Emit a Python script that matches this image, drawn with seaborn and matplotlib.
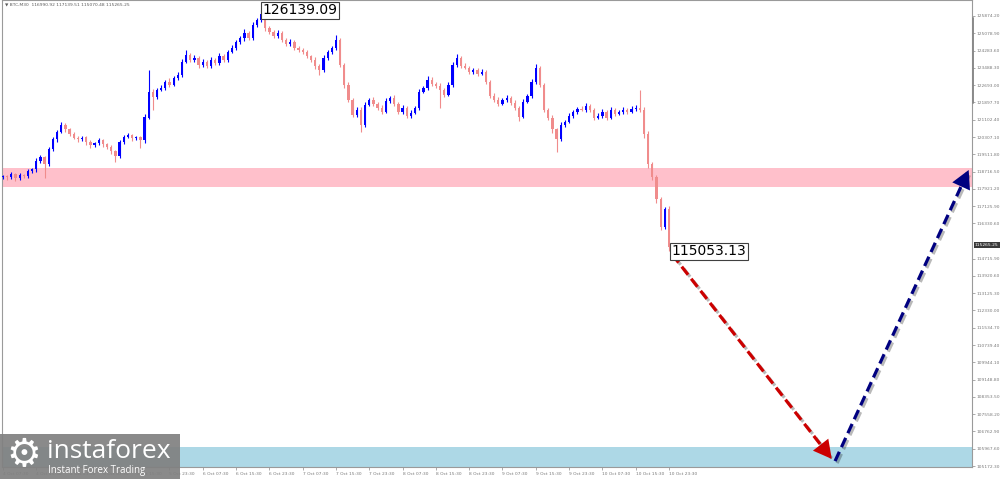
import numpy as np
import pandas as pd
import seaborn as sns
import matplotlib.pyplot as plt
import matplotlib.patheffects as pe
from matplotlib.patches import Rectangle
from matplotlib.lines import Line2D
from matplotlib.transforms import blended_transform_factory

# BTC M30 chart, one value per hour-ish bar
first_open = 118480
closes = [
    118500, 118455, 118590, 118410, 118545, 118500, 118730, 118820, 119185, 119370,
    119050, 119735, 120195, 120560, 120880, 120655, 120425, 120285, 120195, 120285,
    120060, 119920, 120010, 120150, 119965, 119830, 119645, 119415, 120060, 120330,
    120380, 120240, 120285, 120150, 121205, 122395, 122165, 122485, 122575, 122850,
    122715, 123035, 123170, 123765, 124090, 123860, 123950, 123630, 123765, 123585,
    123860, 123720, 124040, 123860, 124225, 124410, 124685, 124865, 125095, 124865,
    125460, 125690, 125965, 125325, 125140, 124960, 125095, 124775, 124590, 124685,
    124410, 124315, 124225, 124040, 123860, 123585, 123400, 123950, 124225, 124410,
    124775, 123630, 122715, 122025, 121340, 121570, 120880, 121800, 122025, 121845,
    121660, 121475, 121980, 122120, 121845, 121475, 121660, 121295, 121430, 121660,
    122395, 122575, 122945, 122760, 122670, 122485, 122255, 122715, 123630, 123950,
    123585, 123495, 123310, 123400, 123220, 123310, 122850, 122210, 122025, 121845,
    122025, 122120, 121890, 121660, 121250, 121935, 122210, 122850, 123495, 122715,
    121570, 121205, 120655, 120195, 120880, 121020, 121295, 121475, 121615, 121570,
    121750, 121570, 121205, 121295, 121475, 121205, 121570, 121385, 121475, 121570,
    121475, 121615, 121660, 121570, 120425, 119050, 118455, 117445, 116165, 116990.92,
    115265.25,
]
wick_up = [
    80, 60, 120, 70, 90, 60, 110, 80, 150, 90,
    70, 130, 110, 90, 140, 60, 80, 100, 70, 90,
    60, 110, 80, 90, 70, 60, 100, 80, 120, 90,
    100, 70, 90, 60, 180, 1000, 120, 90, 110, 80,
    150, 90, 110, 130, 230, 80, 120, 70, 140, 90,
    110, 80, 120, 90, 100, 130, 90, 110, 160, 80,
    120, 100, 174, 90, 110, 80, 130, 70, 90, 120,
    80, 100, 70, 90, 60, 110, 80, 120, 90, 100,
    230, 110, 90, 130, 80, 140, 100, 120, 90, 110,
    80, 100, 140, 90, 120, 70, 110, 90, 100, 80,
    130, 90, 183, 110, 80, 100, 70, 120, 140, 183,
    90, 110, 80, 100, 70, 120, 90, 80, 100, 110,
    90, 120, 80, 100, 70, 110, 90, 130, 183, 80,
    100, 70, 120, 90, 110, 80, 100, 90, 70, 110,
    137, 90, 80, 110, 100, 70, 120, 90, 80, 100,
    90, 110, 120, 810, 100, 150, 120, 90, 110, 90,
    148.59,
]
wick_dn = [
    90, 110, 70, 120, 80, 100, 60, 90, 110, 80,
    628, 90, 70, 100, 80, 120, 90, 70, 110, 80,
    100, 130, 80, 90, 110, 70, 120, 257, 90, 80,
    70, 100, 90, 348, 120, 90, 615, 100, 80, 110,
    90, 80, 120, 100, 70, 110, 90, 130, 80, 100,
    90, 120, 80, 100, 110, 70, 90, 80, 120, 100,
    90, 110, 80, 130, 100, 90, 120, 80, 110, 90,
    100, 80, 120, 90, 110, 140, 230, 90, 80, 100,
    90, 120, 150, 110, 130, 100, 342, 90, 80, 110,
    100, 120, 80, 90, 110, 130, 90, 100, 120, 80,
    90, 80, 100, 110, 90, 843, 120, 80, 100, 90,
    110, 80, 100, 90, 120, 80, 110, 130, 90, 100,
    80, 110, 90, 120, 183, 90, 80, 100, 90, 110,
    130, 120, 150, 577, 90, 110, 80, 100, 90, 80,
    90, 110, 120, 80, 100, 130, 90, 110, 80, 100,
    90, 80, 100, 90, 140, 160, 130, 150, 120, 100,
    212.12,
]

time_labels = [
    "4 Oct 07:30", "4 Oct 15:30", "4 Oct 23:30", "5 Oct 07:30", "5 Oct 15:30",
    "5 Oct 23:30", "6 Oct 07:30", "6 Oct 15:30", "6 Oct 23:30", "7 Oct 07:30",
    "7 Oct 15:30", "7 Oct 23:30", "8 Oct 07:30", "8 Oct 15:30", "8 Oct 23:30",
    "9 Oct 07:30", "9 Oct 15:30", "9 Oct 23:30", "10 Oct 07:30", "10 Oct 15:30",
    "10 Oct 23:30",
]
price_ticks = [
    125874.20, 125078.90, 124283.60, 123488.30, 122693.00, 121897.70, 121102.40,
    120307.10, 119511.80, 118716.50, 117921.20, 117125.90, 116330.60,
    114715.90, 113920.60, 113125.30, 112330.00, 111534.70, 110739.40, 109944.10,
    109148.80, 108353.50, 107558.20, 106762.90, 105967.60, 105172.30,
]

high_label = 126139.09
high_bar = 62
low_label = 115053.13
header = "BTC,M30  116990.92 117139.51 115070.48 115265.25"

resist_zone = (118010, 118880)
target_zone = (105128, 106050)
down_move = [(160.8, 114900), (199.1, 105500)]
up_move = [(199.9, 105400), (232.0, 118790)]

df = pd.DataFrame({"close": closes, "wick_up": wick_up, "wick_dn": wick_dn})
df["open"] = [first_open] + closes[:-1]
df["bar"] = np.arange(len(df))
df["top"] = df[["open", "close"]].max(axis=1)
df["bot"] = df[["open", "close"]].min(axis=1)
df["high"] = df["top"] + df["wick_up"]
df["low"] = df["bot"] - df["wick_dn"]
df.loc[df.index[-1], "low"] = low_label
up = df["close"] >= df["open"]
colors = np.where(up, "#0000ff", "#f08c8c")

sns.set_theme(style="white")
plt.rcParams["font.family"] = ["DejaVu Sans"]

fig = plt.figure(figsize=(10, 4.79), dpi=100)
ax = fig.add_axes([0.0015, 12 / 479, 0.9705, 467 / 479])

ax.axhspan(*resist_zone, color="#ffc0cb", lw=0, zorder=0)
ax.axhspan(*target_zone, color="#add8e6", lw=0, zorder=0)

ax.vlines(df["bar"], df["low"], df["high"], colors=colors, lw=0.8, zorder=2)
ax.bar(df["bar"], np.maximum(df["top"] - df["bot"], 25), bottom=df["bot"],
       width=0.55, color=colors, lw=0, zorder=3)

ax.set_xlim(-0.36, 232.8)
ax.set_ylim(105128, 126610)

# wave forecast arrows
for move, c in [(down_move, "#cc0000"), (up_move, "#000080")]:
    (x0, y0), (x1, y1) = move
    sns.lineplot(x=[x0, x1], y=[y0, y1], color=c, lw=2.3, linestyle=(0, (3.2, 1.6)),
                 ax=ax, zorder=6, sort=False)
    ax.lines[-1].set_path_effects([pe.SimpleLineShadow(offset=(1.5, -1.5), alpha=0.3),
                                   pe.Normal()])
    ax.lines[-1].set_clip_on(False)
    bx = x1 - 0.06 * (x1 - x0)
    by = y1 - 0.06 * (y1 - y0)
    ax.annotate("", xy=(x1, y1), xytext=(bx, by), annotation_clip=False,
                arrowprops=dict(arrowstyle="-|>,head_length=0.65,head_width=0.35",
                                mutation_scale=20, color=c, lw=0,
                                shrinkA=0, shrinkB=0), zorder=7)

# price labels at the extremes
box = dict(boxstyle="square,pad=0.12", fc="white", ec="#404040", lw=0.8)
ax.text(high_bar + 0.36, high_label, f"{high_label:.2f}", ha="left", va="center",
        fontsize=10, color="black", bbox=box, zorder=8)
ax.text(df["bar"].iloc[-1] + 0.7, low_label, f"{low_label:.2f}", ha="left", va="center",
        fontsize=10, color="black", bbox=box, zorder=8)

# axes styling like the terminal
for s in ax.spines.values():
    s.set_color("#9a9a9a")
    s.set_linewidth(0.8)
ax.yaxis.tick_right()
ax.set_yticks(price_ticks, [f"{v:.2f}" for v in price_ticks])
ax.set_xticks(df["bar"].iloc[::8].values, time_labels)
ax.tick_params(axis="both", length=2, width=0.5, color="#8a8a8a", labelcolor="#7a7a7a",
               labelsize=3.2, pad=1.5, direction="out")
ax.tick_params(axis="y", right=True, left=False)
ax.tick_params(axis="x", bottom=True)
for lab in ax.get_xticklabels():
    lab.set_ha("left")
ax.set_xlabel("")
ax.set_ylabel("")

# current price tag on the scale
trans = blended_transform_factory(ax.transAxes, ax.transData)
ax.text(1.003, closes[-1], f"{closes[-1]:.2f}", transform=trans, ha="left", va="bottom",
        fontsize=3.2, color="white", zorder=9, clip_on=False,
        bbox=dict(boxstyle="square,pad=0.25", fc="#3a3a3a", ec="none"))

fig.add_artist(Line2D([0.9725, 0.9725], [1 - 18 / 479, 1 - 103 / 479],
                      color="#8a8a8a", lw=1.4))

ax.text(0.004, 1 - 5 / 467, "\u25bc " + header, transform=ax.transAxes, ha="left",
        va="center", fontsize=3.2, color="#5a5a5a")

# watermark
fig.add_artist(Rectangle((0, 0), 0.18, 45 / 479, transform=fig.transFigure,
                         fc="#808080", ec="none", alpha=0.92, zorder=10))
fig.text(0.024, 24 / 479, "\u2699", fontsize=28, color="white", ha="center",
         va="center", zorder=11)
fig.text(0.047, 27 / 479, "instaforex", fontsize=19, color="white", ha="left",
         va="center", family=["Open Sans", "DejaVu Sans"], zorder=11)
fig.text(0.048, 8 / 479, "Instant Forex Trading", fontsize=7, color="white", ha="left",
         va="center", family=["Open Sans", "DejaVu Sans"], zorder=11)

fig.savefig("out.png", dpi=100)
